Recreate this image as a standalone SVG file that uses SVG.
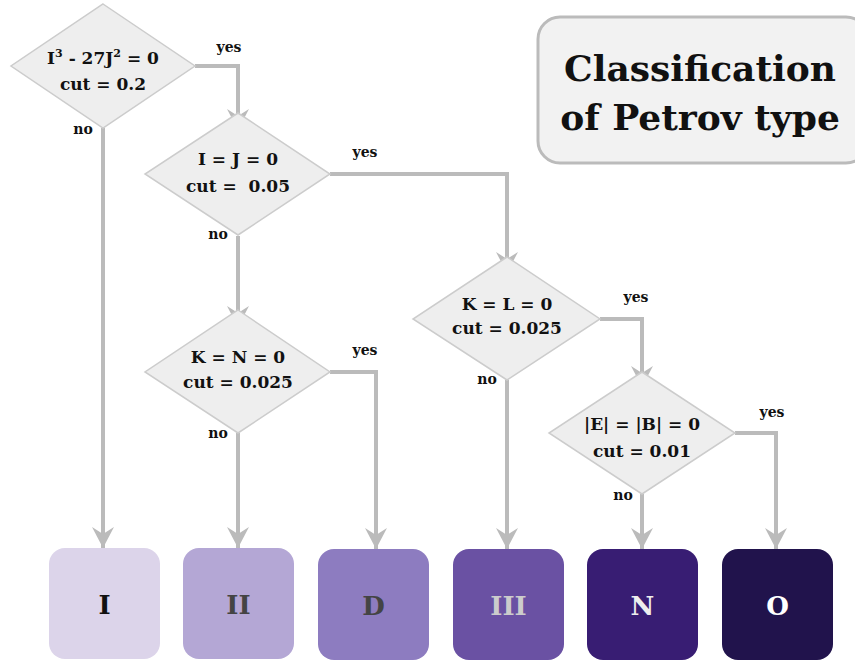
<svg xmlns="http://www.w3.org/2000/svg" width="855" height="664" viewBox="0 0 855 664">
<style>
.dia{fill:#eeeeee;stroke:#cccccc;stroke-width:1.5}
.dt{font-family:"DejaVu Serif","Liberation Serif",serif;font-weight:bold;font-size:17px;fill:#111;text-anchor:middle}
.lb{font-family:"DejaVu Serif","Liberation Serif",serif;font-weight:bold;font-size:14px;fill:#111;text-anchor:middle}
.bx{font-family:"DejaVu Serif","Liberation Serif",serif;font-weight:bold;font-size:26px;text-anchor:middle}
.tt{font-family:"DejaVu Serif","Liberation Serif",serif;font-weight:bold;font-size:36px;fill:#111;text-anchor:middle}
.ln{fill:none;stroke:#bbbbbb;stroke-width:4;marker-end:url(#ah)}
</style>
<defs>
<marker id="ah" markerUnits="userSpaceOnUse" markerWidth="24" markerHeight="24" viewBox="-22 -12 24 24" refX="0" refY="0" orient="auto">
<path d="M0,0 L-21,-11 L-14,0 L-21,11 z" fill="#bbbbbb"/>
</marker>
</defs>
<rect width="855" height="664" fill="#ffffff"/>
<g id="title">
<rect x="538" y="17" width="330" height="146" rx="22" fill="#f2f2f2" stroke="#bbbbbb" stroke-width="3"/>
<text class="tt" x="700" y="81">Classification</text>
<text class="tt" x="700" y="130">of Petrov type</text>
</g>
<g id="connectors">
<path class="ln" d="M195,66 H238 V130"/>
<path class="ln" d="M103,128 V548"/>
<path class="ln" d="M330,174 H507 V273"/>
<path class="ln" d="M238,236 V327"/>
<path class="ln" d="M330,372 H376 V549"/>
<path class="ln" d="M238,433 V548"/>
<path class="ln" d="M600,319 H642 V387"/>
<path class="ln" d="M507,380 V549"/>
<path class="ln" d="M735,433 H776 V549"/>
<path class="ln" d="M642,494 V549"/>
<text class="lb" x="229" y="52">yes</text>
<text class="lb" x="83" y="134">no</text>
<text class="lb" x="365" y="157">yes</text>
<text class="lb" x="218" y="239">no</text>
<text class="lb" x="365" y="355">yes</text>
<text class="lb" x="218" y="438">no</text>
<text class="lb" x="636" y="302">yes</text>
<text class="lb" x="487" y="384">no</text>
<text class="lb" x="772" y="417">yes</text>
<text class="lb" x="623" y="500">no</text>
</g>
<g id="d1">
<polygon class="dia" points="103,4 195,66 103,128 11,66"/>
<text class="dt" x="103" y="64">I<tspan font-size="11" dy="-7">3</tspan><tspan dy="7"> - 27J</tspan><tspan font-size="11" dy="-7">2</tspan><tspan dy="7"> = 0</tspan></text>
<text class="dt" x="103" y="90">cut = 0.2</text>
</g>
<g id="d2">
<polygon class="dia" points="238,113 330,174 238,235 145,174"/>
<text class="dt" x="238" y="165">I = J = 0</text>
<text class="dt" x="238" y="192" xml:space="preserve">cut =  0.05</text>
</g>
<g id="d3">
<polygon class="dia" points="238,310 330,372 238,433 145,372"/>
<text class="dt" x="238" y="363">K = N = 0</text>
<text class="dt" x="238" y="388">cut = 0.025</text>
</g>
<g id="d4">
<polygon class="dia" points="507,257 600,319 507,380 413,319"/>
<text class="dt" x="507" y="310">K = L = 0</text>
<text class="dt" x="507" y="334">cut = 0.025</text>
</g>
<g id="d5">
<polygon class="dia" points="642,372 735,433 642,494 549,433"/>
<text class="dt" x="642" y="430">|E| = |B| = 0</text>
<text class="dt" x="642" y="457">cut = 0.01</text>
</g>
<g id="bI">
<rect x="49" y="548" width="111" height="111" rx="16" fill="#dcd4ea"/>
<text class="bx" x="104.5" y="614" fill="#111">I</text>
</g>
<g id="bII">
<rect x="183" y="548" width="111" height="111" rx="16" fill="#b4a7d5"/>
<text class="bx" x="238.5" y="614" fill="#444">II</text>
</g>
<g id="bD">
<rect x="318" y="549" width="111" height="111" rx="16" fill="#8d7cc0"/>
<text class="bx" x="373.5" y="615" fill="#444">D</text>
</g>
<g id="bIII">
<rect x="453" y="549" width="111" height="111" rx="16" fill="#6a51a3"/>
<text class="bx" x="508.5" y="615" fill="#cccccc">III</text>
</g>
<g id="bN">
<rect x="587" y="549" width="111" height="111" rx="16" fill="#381d73"/>
<text class="bx" x="642.5" y="615" fill="#eeeeee">N</text>
</g>
<g id="bO">
<rect x="722" y="549" width="111" height="111" rx="16" fill="#21134c"/>
<text class="bx" x="777.5" y="615" fill="#ffffff">O</text>
</g>
</svg>
